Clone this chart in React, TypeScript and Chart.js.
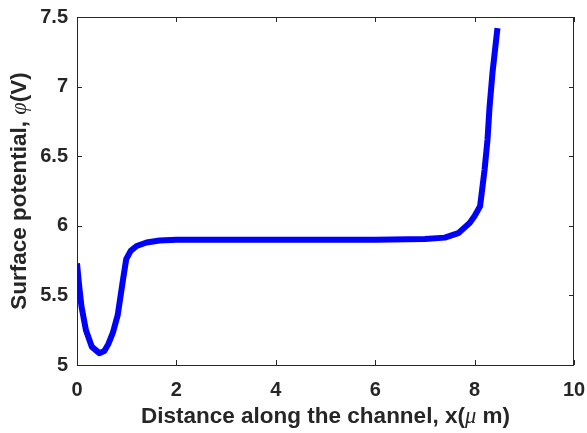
import React, { useEffect, useRef } from "react";
import { Chart, registerables } from "chart.js";

Chart.register(...registerables);

const xValues = [0, 0.04, 0.09, 0.18, 0.3, 0.45, 0.55, 0.63, 0.72, 0.82, 0.92, 0.99, 1.08, 1.2, 1.4, 1.66, 2.0, 3.0, 4.0, 5.0, 6.0, 7.0, 7.4, 7.67, 7.9, 8.0, 8.11, 8.2, 8.26, 8.3, 8.36, 8.46];
const yValues = [5.73, 5.58, 5.42, 5.25, 5.13, 5.085, 5.1, 5.15, 5.23, 5.36, 5.6, 5.76, 5.82, 5.855, 5.88, 5.895, 5.9, 5.9, 5.9, 5.9, 5.9, 5.905, 5.915, 5.947, 6.02, 6.07, 6.14, 6.4, 6.62, 6.85, 7.1, 7.42];
const xTicks = [0, 2, 4, 6, 8, 10];
const yTicks = [5, 5.5, 6, 6.5, 7, 7.5];

const xTitleParts = [
  { text: "Distance along the channel, x(", italic: false },
  { text: "μ", italic: true },
  { text: " m)", italic: false },
];
const yTitleParts = [
  { text: "Surface potential, ", italic: false },
  { text: "φ", italic: true },
  { text: "(V)", italic: false },
];

const FAMILY = "'Liberation Sans', Arial, sans-serif";
const AXIS_COLOR = "#262626";
const TITLE_SIZE = 22.5;
const TICK_SIZE = 20;

function drawParts(ctx: CanvasRenderingContext2D, parts: { text: string; italic: boolean }[]) {
  const fontFor = (p: { italic: boolean }) =>
    p.italic ? `italic ${TITLE_SIZE}px 'Liberation Serif', serif` : `bold ${TITLE_SIZE}px ${FAMILY}`;
  let total = 0;
  const widths = parts.map((p) => {
    ctx.font = fontFor(p);
    const w = ctx.measureText(p.text).width;
    total += w;
    return w;
  });
  let x = -total / 2;
  parts.forEach((p, i) => {
    ctx.font = fontFor(p);
    ctx.fillText(p.text, x, 0);
    x += widths[i];
  });
}

const framePlugin = {
  id: "matlabFrame",
  beforeDatasetsDraw(chart: any) {
    const { ctx, chartArea: a, scales } = chart;
    ctx.save();
    ctx.strokeStyle = AXIS_COLOR;
    ctx.lineWidth = 1;
    ctx.strokeRect(a.left + 0.5, a.top + 0.5, a.right - a.left - 1, a.bottom - a.top);
    const tl = 5;
    ctx.beginPath();
    xTicks.forEach((v) => {
      const px = Math.round(scales.x.getPixelForValue(v)) + 0.5;
      ctx.moveTo(px, a.bottom);
      ctx.lineTo(px, a.bottom - tl);
      ctx.moveTo(px, a.top);
      ctx.lineTo(px, a.top + tl);
    });
    yTicks.forEach((v) => {
      const py = Math.round(scales.y.getPixelForValue(v)) + 0.5;
      ctx.moveTo(a.left, py);
      ctx.lineTo(a.left + tl, py);
      ctx.moveTo(a.right, py);
      ctx.lineTo(a.right - tl, py);
    });
    ctx.stroke();
    ctx.restore();
  },
  afterDraw(chart: any) {
    const { ctx, chartArea: a } = chart;
    ctx.save();
    ctx.fillStyle = AXIS_COLOR;
    ctx.textBaseline = "alphabetic";
    ctx.textAlign = "left";
    ctx.save();
    ctx.translate((a.left + a.right) / 2, 423);
    drawParts(ctx, xTitleParts);
    ctx.restore();
    ctx.save();
    ctx.translate(26, (a.top + a.bottom) / 2);
    ctx.rotate(-Math.PI / 2);
    drawParts(ctx, yTitleParts);
    ctx.restore();
    ctx.restore();
  },
};

export default function App() {
  const ref = useRef<HTMLCanvasElement | null>(null);
  useEffect(() => {
    document.body.style.margin = "0";
    const canvas = ref.current;
    if (!canvas) return;
    const points = xValues.map((x, i) => ({ x, y: yValues[i] }));
    const chart = new Chart(canvas, {
      type: "line",
      data: {
        datasets: [
          {
            data: points,
            borderColor: "#0000ff",
            backgroundColor: "#0000ff",
            borderWidth: 6,
            pointRadius: 0,
            tension: 0,
            fill: false,
            borderJoinStyle: "round",
          },
        ],
      },
      options: {
        animation: false,
        responsive: false,
        devicePixelRatio: 1,
        layout: { padding: { top: 17, right: 13, left: 0, bottom: 0 } },
        plugins: { legend: { display: false }, tooltip: { enabled: false } },
        scales: {
          x: {
            type: "linear",
            min: 0,
            max: 10,
            afterBuildTicks: (s: any) => {
              s.ticks = xTicks.map((v) => ({ value: v }));
            },
            afterFit: (s: any) => {
              s.height = 68;
              s.paddingLeft = 0;
              s.paddingRight = 0;
            },
            ticks: {
              color: AXIS_COLOR,
              font: { family: FAMILY, size: TICK_SIZE, weight: "bold" },
              padding: 13,
              maxRotation: 0,
              callback: (v: any) => String(v),
            },
            grid: { display: false, drawTicks: false },
            border: { display: false },
          },
          y: {
            type: "linear",
            min: 5,
            max: 7.5,
            afterBuildTicks: (s: any) => {
              s.ticks = yTicks.map((v) => ({ value: v }));
            },
            afterFit: (s: any) => {
              s.width = 77;
              s.paddingTop = 0;
              s.paddingBottom = 0;
            },
            ticks: {
              color: AXIS_COLOR,
              font: { family: FAMILY, size: TICK_SIZE, weight: "bold" },
              padding: 9,
              callback: (v: any) => String(v),
            },
            grid: { display: false, drawTicks: false },
            border: { display: false },
          },
        },
      },
      plugins: [framePlugin],
    });
    return () => chart.destroy();
  }, []);
  return (
    <div style={{ position: "absolute", left: 0, top: 0, width: 587, height: 433, background: "#fff" }}>
      <canvas ref={ref} width={587} height={433} style={{ display: "block", width: 587, height: 433 }} />
    </div>
  );
}
